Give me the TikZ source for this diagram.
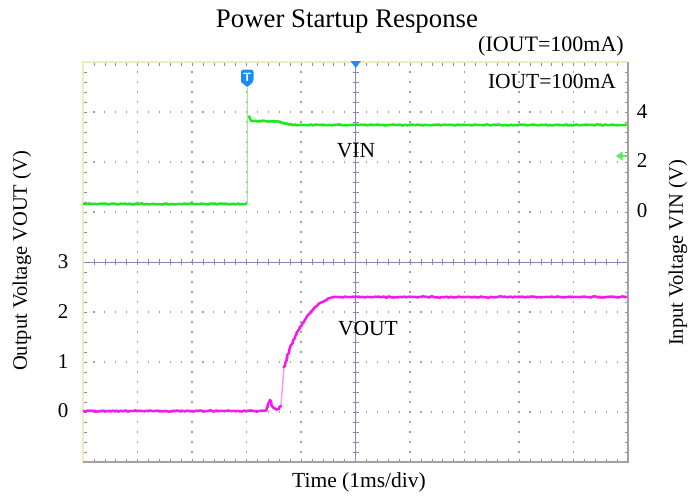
\documentclass[tikz,border=0pt]{standalone}
\usepackage{fontspec}
\setmainfont{Liberation Serif}
\usetikzlibrary{decorations.pathmorphing}
\definecolor{tracegreen}{RGB}{30,232,30}
\definecolor{edgegreen}{RGB}{150,240,150}
\definecolor{tracemag}{RGB}{245,25,235}
\definecolor{edgemag}{RGB}{250,150,245}
\definecolor{griddot}{RGB}{160,160,190}
\definecolor{axisblue}{RGB}{135,135,185}
\definecolor{frameyel}{RGB}{240,236,190}
\definecolor{framegray}{RGB}{170,160,155}
\definecolor{markblue}{RGB}{30,140,245}
\definecolor{markgreen}{RGB}{90,235,90}
\pgfmathsetseed{7}
\begin{document}
\begin{tikzpicture}[x=1pt,y=-1pt,
  lbl/.style={font=\fontsize{21.5}{24}\selectfont, inner sep=0pt, anchor=base},
  ticklbl/.style={font=\fontsize{21}{24}\selectfont, inner sep=0pt},
  ylbl/.style={font=\fontsize{20.5}{24}\selectfont, inner sep=0pt, rotate=90},
  vin/.style={draw=tracegreen, line width=2.5pt, line join=round,
     decorate, decoration={random steps, segment length=1.4pt, amplitude=0.55pt}},
  vinedge/.style={draw=edgegreen, line width=1pt},
  vout/.style={draw=tracemag, line width=2.5pt, line join=round,
     decorate, decoration={random steps, segment length=1.4pt, amplitude=0.6pt}},
  voutedge/.style={draw=edgemag, line width=1.4pt},
  dotmark/.style={fill=griddot},
  axisline/.style={draw=axisblue, line width=0.8pt},
  tickmark/.style={draw=axisblue, line width=0.6pt},
]
\useasboundingbox[fill=white] (0,0) rectangle (692,495);

% grid dots
\foreach \i in {1,2,3,4,6,7,8,9} {
  \foreach \j in {1,...,39} {
    \fill[dotmark] ({83+54.5*\i-0.6},{62+10*\j-0.6}) rectangle ++(1.2,1.2);
  }
}
\foreach \j in {1,2,3,5,6,7} {
  \foreach \i in {1,...,49} {
    \fill[dotmark] ({83+10.9*\i-0.6},{62+50*\j-0.6}) rectangle ++(1.2,1.2);
  }
}
% central axes with ticks
\draw[axisline] (355.5,62) -- (355.5,462);
\draw[axisline] (83,262) -- (628,262);
\foreach \j in {1,...,39} {
  \draw[tickmark] (352.5,{62+10*\j}) -- (358.5,{62+10*\j});
}
\foreach \i in {1,...,49} {
  \draw[tickmark] ({83+10.9*\i},259) -- ({83+10.9*\i},265);
}
% frame ticks
\foreach \i in {1,...,49} {
  \draw[tickmark] ({83+10.9*\i},62) -- ({83+10.9*\i},65.5);
  \draw[tickmark] ({83+10.9*\i},462) -- ({83+10.9*\i},458.5);
}
\foreach \j in {1,...,39} {
  \draw[tickmark] (83,{62+10*\j}) -- (86.5,{62+10*\j});
  \draw[tickmark] (628,{62+10*\j}) -- (624.5,{62+10*\j});
}
% frame
\draw[frameyel, line width=1.6pt] (83,462) -- (83,62) -- (628,62);
\draw[framegray, line width=1.6pt] (628,62) -- (628,462) -- (83,462);

% VIN trace
\draw[vin] (83,204) -- (247,204);
\draw[vinedge] (247.6,204) -- (247.6,88);
\draw[vin] (248.5,116) -- (251,121) -- (278,121.5) .. controls (286,124) and (292,125) .. (302,125) -- (627,125);

% VOUT trace
\draw[vout] (83,411) -- (266,411) -- (268,404) -- (270,400) -- (272,406) -- (276,409.5) -- (279,409) -- (281,405);
\draw[voutedge] (281,405) -- (284,368);
\draw[vout] (284,368) .. controls (292,335) and (312,300) .. (335,297) -- (627,297);

% markers
\fill[markblue, rounded corners=2.5pt] (241,82) -- (241,69.5) -- (253.5,69.5) -- (253.5,82) [sharp corners] -- (247.2,87) -- cycle;
\node[text=white, font=\sffamily\bfseries\fontsize{12}{12}\selectfont, inner sep=0pt] (trig) at (247.2,77) {T};
\fill[markblue] (350.5,61) -- (361,61) -- (355.7,68) -- cycle;
\fill[markgreen] (616,156) -- (622.5,151.5) -- (622.5,160.5) -- cycle;
\draw[markgreen, line width=1.8pt] (621,156) -- (627,156);

% texts
\node[lbl, font=\fontsize{26.8}{30}\selectfont] (title) at (347,28) {Power Startup Response};
\node[lbl, font=\fontsize{22}{26}\selectfont] (iout1) at (551,52) {(IOUT=100mA)};
\node[lbl] (iout2) at (552,88) {IOUT=100mA};
\node[lbl] (vinl) at (356,157) {VIN};
\node[lbl] (voutl) at (368,335) {VOUT};
\node[lbl] (time) at (359,487) {Time (1ms/div)};

\node[ticklbl] (l3) at (63,262) {3};
\node[ticklbl] (l2) at (63,312) {2};
\node[ticklbl] (l1) at (63,362) {1};
\node[ticklbl] (l0) at (63,411) {0};
\node[ticklbl] (r4) at (642,112) {4};
\node[ticklbl] (r2) at (642,161) {2};
\node[ticklbl] (r0) at (642,211) {0};

\node[ylbl] (yl) at (22,261) {Output Voltage VOUT (V)};
\node[ylbl] (yr) at (678,253) {Input Voltage VIN (V)};
\end{tikzpicture}
\end{document}
